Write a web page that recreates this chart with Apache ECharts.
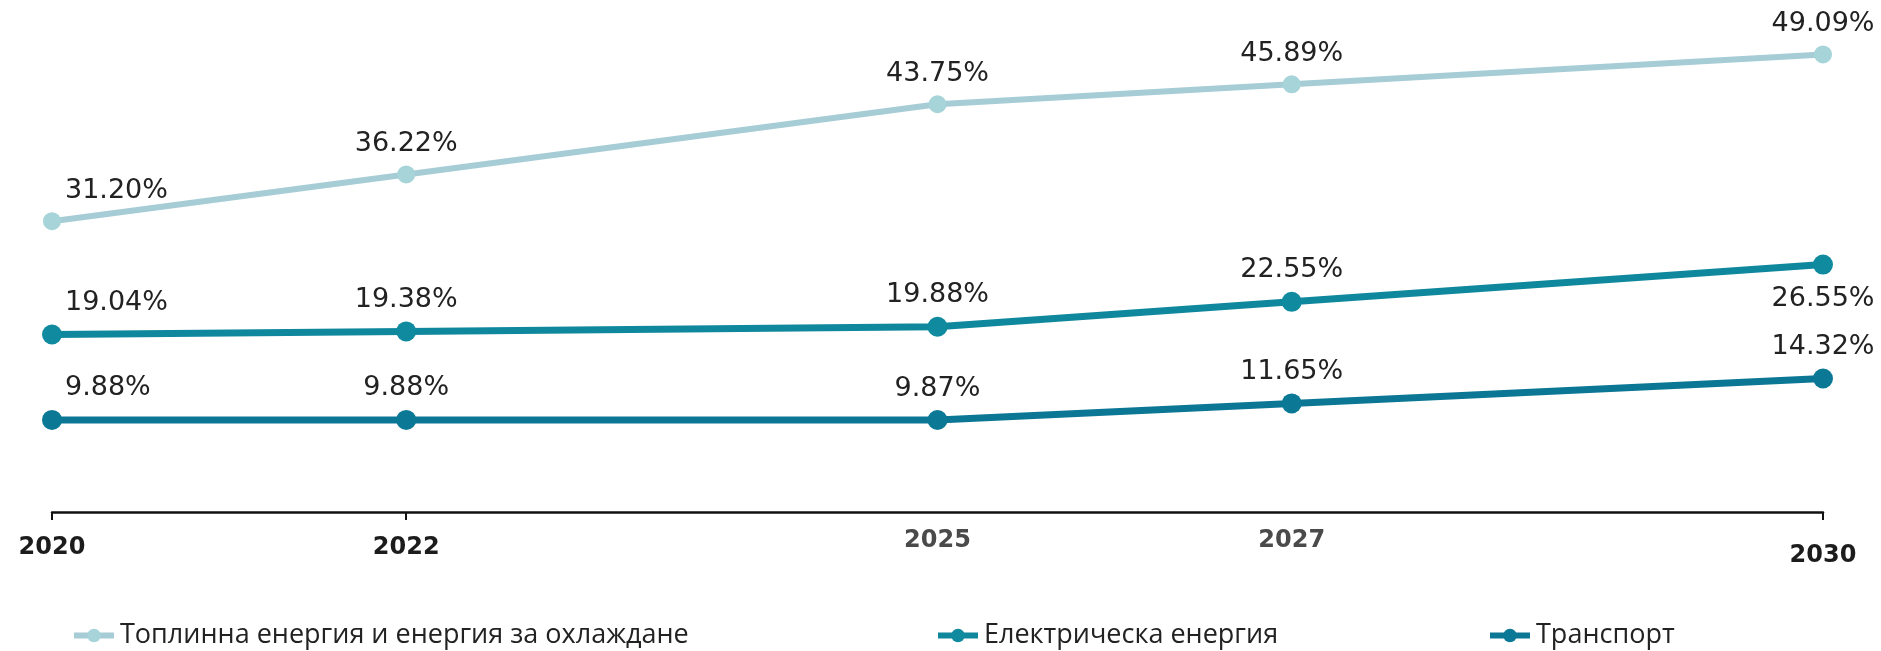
<!DOCTYPE html>
<html>
<head>
<meta charset="utf-8">
<script src="https://cdn.jsdelivr.net/npm/echarts@6/dist/echarts.min.js"></script>
<style>
html,body{margin:0;padding:0;background:#fff;}
#chart{width:1881px;height:651px;}
</style>
</head>
<body>
<div id="chart"></div>
<script>
// ---- data ----
const years = [2020, 2022, 2025, 2027, 2030];
const xTickLabels = ['2020', '2022', '2025', '2027', '2030'];
const seriesNames = ['Топлинна енергия и енергия за охлаждане', 'Електрическа енергия', 'Транспорт'];
const heatValues = [31.20, 36.22, 43.75, 45.89, 49.09];
const electricityValues = [19.04, 19.38, 19.88, 22.55, 26.55];
const transportValues = [9.88, 9.88, 9.87, 11.65, 14.32];

// ---- styles ----
const colors = [
  { line: '#a6ccd6', point: '#a6d4d9' },
  { line: '#0f889d', point: '#0f8a9e' },
  { line: '#0b7794', point: '#0b7995' }
];
// label placement per series/point index (style only)
const labelPlacement = [
  ['firstTop', 'top', 'top', 'top', 'top'],
  ['firstTop', 'top', 'top', 'top', 'bottom'],
  ['firstTop', 'top', 'top', 'top', 'top']
];

const labelFont = { fontFamily: 'DejaVu Sans', fontSize: 27, color: '#222' };

function buildData(values, sIdx) {
  return years.map((yr, i) => {
    const p = labelPlacement[sIdx][i];
    let label;
    if (p === 'firstTop') {
      label = { position: 'top', align: 'left', offset: [13, 0], distance: 8 };
    } else if (p === 'bottom') {
      label = { position: 'bottom', distance: 11 };
    } else {
      label = { position: 'top', distance: 8 };
    }
    return { value: [yr, values[i]], label: label };
  });
}

const allValues = [heatValues, electricityValues, transportValues];
const symbolSizes = [18, 20, 20];
const lineWidths = [6, 7, 7];

const series = allValues.map((vals, s) => ({
  name: seriesNames[s],
  type: 'line',
  data: buildData(vals, s),
  symbol: 'circle',
  symbolSize: symbolSizes[s],
  lineStyle: { color: colors[s].line, width: lineWidths[s] },
  itemStyle: { color: colors[s].point },
  label: Object.assign({
    show: true,
    formatter: p => p.value[1].toFixed(2) + '%'
  }, labelFont),
  emphasis: { disabled: true },
  animation: false,
  z: 3 - s
}));

const legendBase = {
  top: 617,
  itemWidth: 40,
  itemHeight: 17,
  lineStyle: { width: 6 },
  textStyle: { fontFamily: 'Open Sans', fontSize: 27, color: '#222', padding: [0, 0, 0, 1] },
  selectedMode: false
};
const legendLefts = [66, 930, 1482];

const option = {
  animation: false,
  backgroundColor: '#fff',
  grid: { left: 52, right: 58, top: 46, bottom: 139, containLabel: false, outerBoundsMode: 'none' },
  legend: seriesNames.map((n, i) => Object.assign({}, legendBase, { left: legendLefts[i], data: [n] })),
  xAxis: {
    type: 'value',
    min: 2020,
    max: 2030,
    interval: 1,
    splitLine: { show: false },
    axisLine: { show: true, lineStyle: { color: '#111', width: 2.5 } },
    axisTick: { show: true, length: 8, lineStyle: { color: '#111', width: 2 }, customValues: [2020, 2022, 2030] },
    axisLabel: {
      show: true,
      margin: 17,
      customValues: years,
      formatter: v => {
        const idx = years.indexOf(v);
        const t = idx >= 0 ? xTickLabels[idx] : '';
        if (v === 2025 || v === 2027) return '{g|' + t + '}';
        if (v === 2030) return '{c|' + t + '}';
        return '{b|' + t + '}';
      },
      rich: {
        b: { fontFamily: 'DejaVu Sans', fontWeight: 'bold', fontSize: 24, color: '#1c1c1c', padding: [7, 0, 0, 0] },
        g: { fontFamily: 'DejaVu Sans', fontWeight: 'bold', fontSize: 24, color: '#4a4a4a', padding: [0, 0, 0, 0] },
        c: { fontFamily: 'DejaVu Sans', fontWeight: 'bold', fontSize: 24, color: '#1c1c1c', padding: [15, 0, 0, 0] }
      }
    }
  },
  yAxis: {
    type: 'value',
    min: 0,
    max: 50,
    show: false,
    splitLine: { show: false }
  },
  series: series
};

const chart = echarts.init(document.getElementById('chart'), null, { renderer: 'canvas' });
chart.setOption(option);
</script>
</body>
</html>
